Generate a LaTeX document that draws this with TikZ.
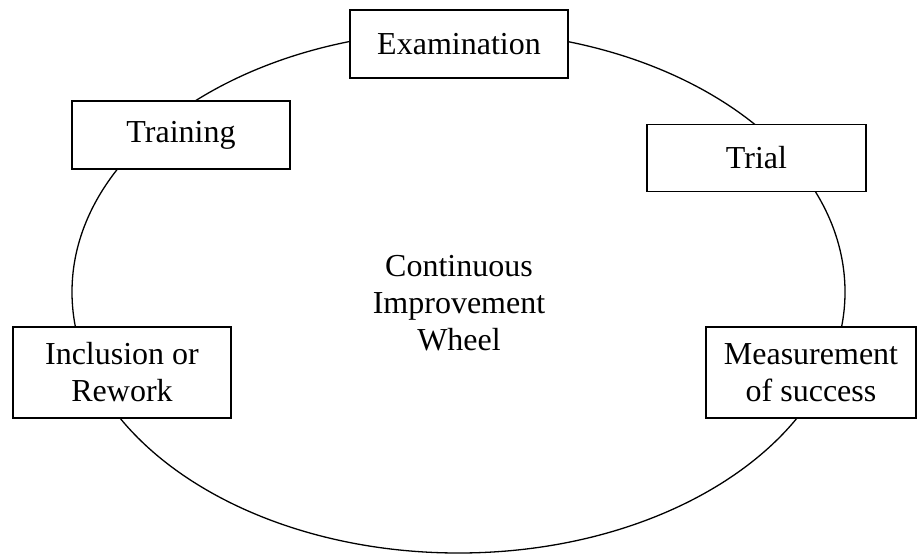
\documentclass[tikz,border=0pt]{standalone}
\usepackage{fontspec}
\setmainfont{Liberation Serif}
\usetikzlibrary{shapes.geometric}
\begin{document}
\begin{tikzpicture}[x=1pt,y=-1pt,
  stagebox/.style={draw, line width=1.8pt, fill=white, inner sep=0pt, align=center,
    font=\fontsize{32}{37}\selectfont},
  wheelshape/.style={ellipse, draw, line width=1.3pt, inner sep=0pt},
  label/.style={align=center, font=\fontsize{32}{37}\selectfont}]
\useasboundingbox (0,0) rectangle (917,555);
\node[wheelshape, minimum width=773pt, minimum height=522pt] (wheel) at (458.5,292) {};
\node[label] (title) at (459,303) {Continuous\\Improvement\\Wheel};
\node[stagebox, minimum width=218pt, minimum height=68pt] (exam) at (459,44) {Examination};
\node[stagebox, minimum width=218pt, minimum height=68pt] (train) at (181,135) {Training};
\node[stagebox, minimum width=219pt, minimum height=67pt] (trial) at (756.5,158) {Trial};
\node[stagebox, minimum width=218pt, minimum height=91pt] (incl) at (122,372.5) {Inclusion or\\Rework};
\node[stagebox, minimum width=210pt, minimum height=91pt] (meas) at (811,372.5) {Measurement\\of success};
\end{tikzpicture}
\end{document}
